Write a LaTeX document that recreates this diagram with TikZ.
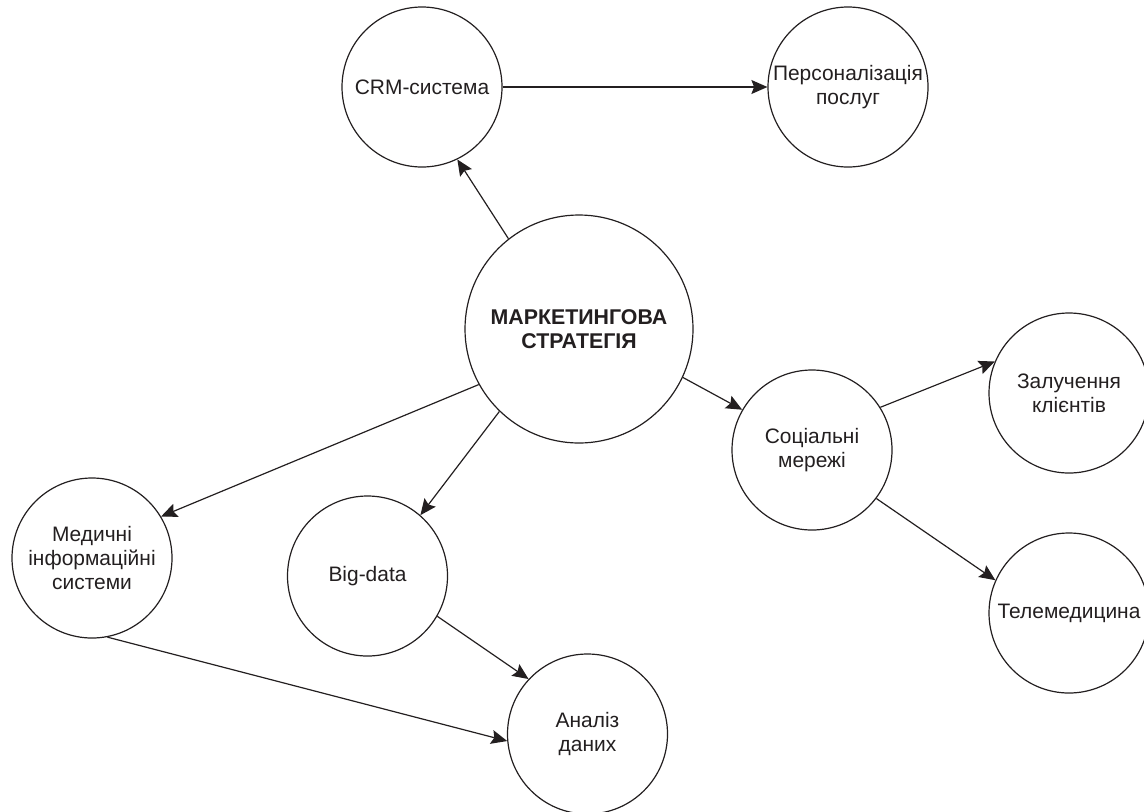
\documentclass[tikz,border=0pt]{standalone}
\usepackage{fontspec}
\setmainfont{Liberation Sans}
\usetikzlibrary{arrows.meta}
\definecolor{ink}{RGB}{35,31,32}
\tikzset{
  bubble/.style={circle, draw=ink, line width=0.9pt, fill=white, inner sep=0pt,
    minimum size=120pt, align=center, text=ink,
    font=\fontsize{15.7}{17.8}\selectfont},
  bigbubble/.style={bubble, minimum size=171pt, font=\bfseries\fontsize{16}{17.8}\selectfont},
  link/.style={draw=ink, line width=0.9pt, -{Stealth[length=12pt,width=10.5pt,inset=2pt]}}
}
\begin{document}
\begin{tikzpicture}[x=0.75pt,y=-0.75pt]
\useasboundingbox (0,0) rectangle (1144,811);
\node[bigbubble] (main) at (579,329) {МАРКЕТИНГОВА\\СТРАТЕГІЯ};
\node[bubble] (crm) at (422,87) {CRM-система};
\node[bubble] (pers) at (848,87) {Персоналізація\\послуг};
\node[bubble] (soc) at (812,450) {Соціальні\\мережі};
\node[bubble] (zal) at (1069,393) {Залучення\\клієнтів};
\node[bubble] (tele) at (1069,613) {Телемедицина};
\node[bubble] (med) at (92,558) {Медичні\\інформаційні\\системи};
\node[bubble] (big) at (367.5,576) {Big-data};
\node[bubble] (anal) at (587.5,734) {Аналіз\\даних};

\draw[link] (main.128.6) -- (crm.-64);
\draw[link] (crm.east) -- (pers.west);
\draw[link] (main.-25.2) -- (soc.150.6);
\draw[link] (soc.32.7) -- (zal.157.3);
\draw[link] (soc.-37.3) -- (tele.156.6);
\draw[link] (main.-151) -- (med.31);
\draw[link] (main.-134.3) -- (big.49.3);
\draw[link] (big.-30) -- (anal.137.7);
\draw[link] (med.-79.4) -- (anal.-175.7);
\end{tikzpicture}
\end{document}
